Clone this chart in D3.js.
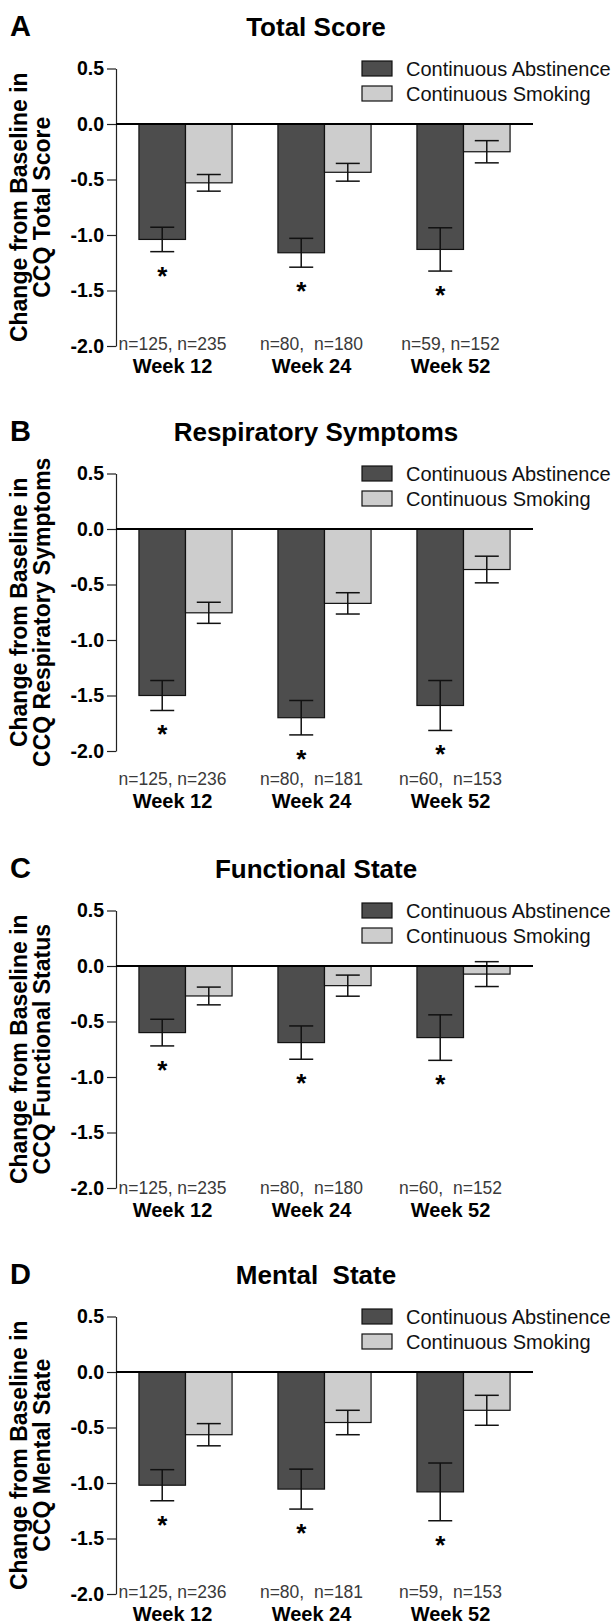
<!DOCTYPE html>
<html>
<head>
<meta charset="utf-8">
<script src="https://cdn.jsdelivr.net/npm/d3@7"></script>
<style>
  body { margin: 0; background: #fff; }
  svg text { font-family: "Liberation Sans", Arial, Helvetica, sans-serif; }
</style>
</head>
<body>
<svg id="chart" width="615" height="1622"></svg>
<script>
// categories
var weeks = ["Week 12", "Week 24", "Week 52"];
var groups = ["Continuous Abstinence", "Continuous Smoking"];
var panelLetters = ["A", "B", "C", "D"];
var panelTitles = ["Total Score", "Respiratory Symptoms", "Functional State", "Mental  State"];
var yTitleLine1 = ["Change from Baseline in", "Change from Baseline in", "Change from Baseline in", "Change from Baseline in"];
var yTitleLine2 = ["CCQ Total Score", "CCQ Respiratory Symptoms", "CCQ Functional Status", "CCQ Mental State"];
var tickValues = [0.5, 0.0, -0.5, -1.0, -1.5, -2.0];

// mean change (per panel, per week)
var abstinenceMean = [
  [-1.04, -1.16, -1.13],
  [-1.50, -1.70, -1.59],
  [-0.60, -0.69, -0.645],
  [-1.02, -1.055, -1.08]
];
var abstinenceSE = [
  [0.11, 0.13, 0.195],
  [0.135, 0.155, 0.225],
  [0.12, 0.15, 0.205],
  [0.14, 0.18, 0.26]
];
var smokingMean = [
  [-0.53, -0.435, -0.25],
  [-0.755, -0.67, -0.365],
  [-0.27, -0.177, -0.073],
  [-0.565, -0.455, -0.345]
];
var smokingSE = [
  [0.075, 0.08, 0.10],
  [0.095, 0.096, 0.12],
  [0.08, 0.095, 0.112],
  [0.10, 0.11, 0.135]
];
var nLabels = [
  ["n=125, n=235", "n=80,  n=180", "n=59, n=152"],
  ["n=125, n=236", "n=80,  n=181", "n=60,  n=153"],
  ["n=125, n=235", "n=80,  n=180", "n=60,  n=152"],
  ["n=125, n=236", "n=80,  n=181", "n=59,  n=153"]
];

// layout
var svg = d3.select("#chart");
var zeroY = [124, 529, 966, 1372];
var nDrop = [-2, 28, 0, -2];
var axisX = 116, axisEnd = 533;
var unitPx = 111;

var x0 = d3.scaleBand()
  .domain(weeks)
  .range([axisX, axisEnd])
  .paddingInner(0.33)
  .paddingOuter(0.165);
var x1 = d3.scaleBand()
  .domain(groups)
  .range([0, x0.bandwidth()]);
var fills = { "Continuous Abstinence": "#4d4d4d", "Continuous Smoking": "#cdcdcd" };

panelLetters.forEach(function(letter, p) {
  var z = zeroY[p];
  var y = d3.scaleLinear()
    .domain([-2, 0.5])
    .range([z + 2 * unitPx, z - 0.5 * unitPx]);

  var g = svg.append("g");

  // letter + title
  g.append("text")
    .attr("x", 10).attr("y", z - 98)
    .attr("dominant-baseline", "central")
    .style("font-size", "29px").style("font-weight", "bold")
    .text(letter);
  g.append("text")
    .attr("x", 316).attr("y", z - 97)
    .attr("text-anchor", "middle")
    .attr("dominant-baseline", "central")
    .style("font-size", "26px").style("font-weight", "bold")
    .style("white-space", "pre")
    .text(panelTitles[p]);

  // y axis
  var yAxis = d3.axisLeft(y)
    .tickValues(tickValues)
    .tickSize(9)
    .tickSizeOuter(0)
    .tickPadding(3)
    .tickFormat(function(d) { return d.toFixed(1); });
  var ax = g.append("g")
    .attr("transform", "translate(" + axisX + ",0)")
    .call(yAxis);
  ax.select(".domain").attr("stroke", "#222").attr("stroke-width", 1.2);
  ax.selectAll(".tick line").attr("stroke", "#222").attr("stroke-width", 1.2);
  ax.selectAll(".tick text")
    .style("font-size", "19.5px").style("font-weight", "bold")
    .attr("fill", "#000");

  // y title
  var yMid = (y(0.5) + y(-2)) / 2;
  [yTitleLine1[p], yTitleLine2[p]].forEach(function(t, i) {
    g.append("text")
      .attr("transform", "translate(" + (19 + i * 23) + "," + yMid + ") rotate(-90)")
      .attr("text-anchor", "middle")
      .attr("dominant-baseline", "central")
      .style("font-size", "23px").style("font-weight", "bold")
      .text(t);
  });

  // bars
  var rows = weeks.map(function(w, i) {
    return [
      { week: w, group: groups[0], mean: abstinenceMean[p][i], se: abstinenceSE[p][i] },
      { week: w, group: groups[1], mean: smokingMean[p][i], se: smokingSE[p][i] }
    ];
  });
  var wg = g.selectAll(".wk")
    .data(rows)
    .enter().append("g")
    .attr("transform", function(d) { return "translate(" + x0(d[0].week) + ",0)"; });

  wg.selectAll("rect")
    .data(function(d) { return d; })
    .enter().append("rect")
    .attr("x", function(d) { return x1(d.group); })
    .attr("y", y(0))
    .attr("width", x1.bandwidth())
    .attr("height", function(d) { return y(d.mean) - y(0); })
    .attr("fill", function(d) { return fills[d.group]; })
    .attr("stroke", "#111")
    .attr("stroke-width", 1.2);

  // error bars
  var eb = wg.selectAll(".eb")
    .data(function(d) { return d; })
    .enter().append("g")
    .attr("stroke", "#111")
    .attr("stroke-width", 1.5);
  eb.append("line")
    .attr("x1", function(d) { return x1(d.group) + x1.bandwidth() / 2; })
    .attr("x2", function(d) { return x1(d.group) + x1.bandwidth() / 2; })
    .attr("y1", function(d) { return y(d.mean + d.se); })
    .attr("y2", function(d) { return y(d.mean - d.se); });
  [1, -1].forEach(function(s) {
    eb.append("line")
      .attr("x1", function(d) { return x1(d.group) + x1.bandwidth() / 2 - 12; })
      .attr("x2", function(d) { return x1(d.group) + x1.bandwidth() / 2 + 12; })
      .attr("y1", function(d) { return y(d.mean + s * d.se); })
      .attr("y2", function(d) { return y(d.mean + s * d.se); });
  });

  // asterisks under abstinence bars
  wg.append("text")
    .attr("x", x1(groups[0]) + x1.bandwidth() / 2)
    .attr("y", function(d) { return y(d[0].mean - d[0].se) + 33; })
    .attr("text-anchor", "middle")
    .style("font-size", "26px").style("font-weight", "bold")
    .text("*");

  // zero line
  g.append("line")
    .attr("x1", axisX).attr("x2", axisEnd)
    .attr("y1", y(0)).attr("y2", y(0))
    .attr("stroke", "#000").attr("stroke-width", 2.2);

  // n labels and week labels
  var lab = g.selectAll(".lab")
    .data(weeks)
    .enter().append("g");
  lab.append("text")
    .attr("x", function(d) { return x0(d) + x0.bandwidth() / 2 - 13; })
    .attr("y", y(-2) + nDrop[p])
    .attr("text-anchor", "middle")
    .attr("dominant-baseline", "central")
    .style("font-size", "17.5px")
    .style("white-space", "pre")
    .attr("fill", "#3a3a3a")
    .text(function(d, i) { return nLabels[p][i]; });
  lab.append("text")
    .attr("x", function(d) { return x0(d) + x0.bandwidth() / 2 - 13; })
    .attr("y", y(-2) + nDrop[p] + 22)
    .attr("text-anchor", "middle")
    .attr("dominant-baseline", "central")
    .style("font-size", "20px").style("font-weight", "bold")
    .text(function(d) { return d; });

  // legend
  var lg = g.selectAll(".lg")
    .data(groups)
    .enter().append("g")
    .attr("transform", function(d, i) { return "translate(362," + (z - 63 + i * 25) + ")"; });
  lg.append("rect")
    .attr("width", 30).attr("height", 15)
    .attr("fill", function(d) { return fills[d]; })
    .attr("stroke", "#111").attr("stroke-width", 1.2);
  lg.append("text")
    .attr("x", 44).attr("y", 7.5)
    .attr("dominant-baseline", "central")
    .style("font-size", "20px")
    .attr("fill", "#111")
    .text(function(d) { return d; });
});
</script>
</body>
</html>
